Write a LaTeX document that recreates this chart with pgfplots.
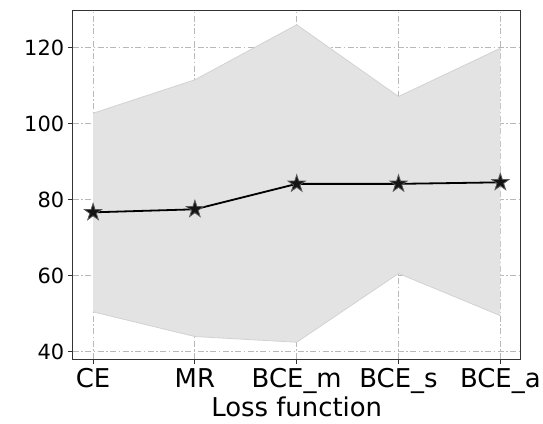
\documentclass[border=0pt]{standalone}
\usepackage{fontspec}
\setmainfont{DejaVu Sans}
\usepackage{pgfplots}
\pgfplotsset{compat=1.18}
\usepgfplotslibrary{fillbetween}
\usetikzlibrary{calc}
\pgfplotsset{/pgf/number format/assume math mode=true}
\definecolor{bandfill}{HTML}{E3E3E3}
\definecolor{bandedge}{HTML}{D2D2D2}
\definecolor{gridc}{HTML}{B8B8B8}
\definecolor{spine}{HTML}{333333}
\pgfdeclareplotmark{fstar}{%
  \pgfpathmoveto{\pgfpoint{0pt}{\pgfplotmarksize}}%
  \pgfpathlineto{\pgfpoint{-0.2245\pgfplotmarksize}{0.3090\pgfplotmarksize}}%
  \pgfpathlineto{\pgfpoint{-0.9511\pgfplotmarksize}{0.3090\pgfplotmarksize}}%
  \pgfpathlineto{\pgfpoint{-0.3633\pgfplotmarksize}{-0.1180\pgfplotmarksize}}%
  \pgfpathlineto{\pgfpoint{-0.5878\pgfplotmarksize}{-0.8090\pgfplotmarksize}}%
  \pgfpathlineto{\pgfpoint{0pt}{-0.382\pgfplotmarksize}}%
  \pgfpathlineto{\pgfpoint{0.5878\pgfplotmarksize}{-0.8090\pgfplotmarksize}}%
  \pgfpathlineto{\pgfpoint{0.3633\pgfplotmarksize}{-0.1180\pgfplotmarksize}}%
  \pgfpathlineto{\pgfpoint{0.9511\pgfplotmarksize}{0.3090\pgfplotmarksize}}%
  \pgfpathlineto{\pgfpoint{0.2245\pgfplotmarksize}{0.3090\pgfplotmarksize}}%
  \pgfpathclose
  \pgfusepathqfillstroke}
\begin{document}
\begin{tikzpicture}
\begin{axis}[
  scale only axis,
  width=448bp, height=348.7bp,
  xmin=-0.2, xmax=4.2,
  ymin=38.08, ymax=129.9,
  xtick={0,1,2,3,4},
  xticklabels={CE,MR,BCE\_m,BCE\_s,BCE\_a},
  ytick={40,60,80,100,120},
  tick align=outside,
  major tick length=5bp,
  xtick pos=bottom, ytick pos=left,
  tick style={spine, line width=0.9bp},
  axis line style={spine, line width=1bp},
  grid=major,
  major grid style={gridc, line width=0.8bp, dash pattern=on 6bp off 2.5bp on 1.5bp off 2.5bp},
  xticklabel style={font=\fontsize{26}{30}\selectfont, yshift=-1bp},
  yticklabel style={font=\fontsize{21}{25}\selectfont},
  xlabel={Loss function},
  xlabel style={font=\fontsize{26}{30}\selectfont, yshift=2bp, inner sep=1bp},
]
\addplot[name path=upper, draw=bandedge, line width=0.8bp, forget plot] coordinates {
  (0,102.8) (1,111.6) (2,126.1) (3,107.2) (4,119.9)};
\addplot[name path=lower, draw=bandedge, line width=0.8bp, forget plot] coordinates {
  (0,50.5) (1,44.0) (2,42.5) (3,60.6) (4,49.5)};
\addplot[bandfill, forget plot] fill between[of=upper and lower];
\addplot[black, line width=1.8bp, mark=fstar, mark size=9bp,
  mark options={line width=0.8bp, draw=black!65, fill=black!92}] coordinates {
  (0,76.7) (1,77.5) (2,84.2) (3,84.2) (4,84.6)};
\end{axis}
\pgfresetboundingbox
\path[use as bounding box] ($(current axis.south west)+(-72.7bp,-64bp)$) rectangle ($(current axis.north east)+(22.3bp,10.3bp)$);
\end{tikzpicture}
\end{document}
